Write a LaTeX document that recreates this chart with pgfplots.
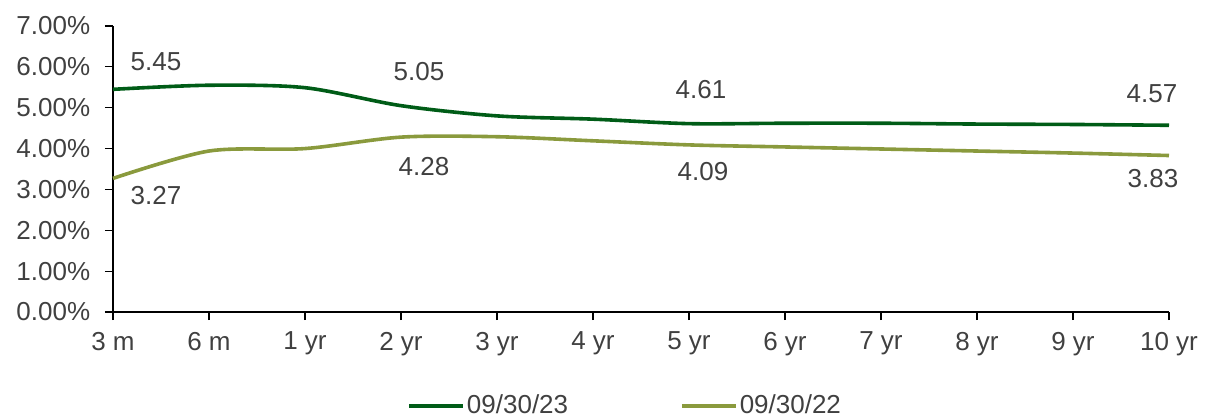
\documentclass[border=0pt]{standalone}
\usepackage{pgfplots}
\pgfplotsset{compat=1.18}
\usepackage{fontspec}
\setmainfont{Liberation Sans}
\definecolor{dkgreen}{HTML}{005C17}
\definecolor{olive}{HTML}{8A9A3D}
\definecolor{txt}{HTML}{404040}
\newcommand{\fs}{\fontsize{26bp}{30bp}\selectfont}
\begin{document}
\fs
\begin{tikzpicture}
\path[use as bounding box] (-113bp,-102bp) rectangle (1095bp,312bp);
\begin{axis}[
  at={(0,0)}, anchor=south west,
  scale only axis, width=1056bp, height=286bp,
  xmin=0, xmax=11, ymin=0, ymax=7,
  axis x line*=bottom, axis y line*=left,
  axis line style={black, line width=1.2bp},
  xtick={0,...,11},
  xticklabels={3 m,6 m,1 yr,2 yr,3 yr,4 yr,5 yr,6 yr,7 yr,8 yr,9 yr,10 yr},
  ytick={0,...,7},
  yticklabels={0.00\%,1.00\%,2.00\%,3.00\%,4.00\%,5.00\%,6.00\%,7.00\%},
  tick align=outside, major tick length=8bp,
  tick style={black, line width=1.2bp},
  ticklabel style={font=\fs, text=txt},
  yticklabel style={xshift=-6bp},
  xticklabel style={yshift=-3bp},
  legend columns=2,
  legend style={at={(0.485,-0.329)}, anchor=center, draw=none, fill=none,
    font=\fs, text=txt, inner sep=0pt,
    /tikz/every even column/.append style={column sep=110bp}},
  legend image code/.code={\draw[#1] (0bp,0bp) -- (54bp,0bp);},
  clip=false,
]
\addplot[dkgreen, line width=3.6bp, smooth, tension=0.5] coordinates {
 (0,5.45) (1,5.55) (2,5.49) (3,5.05) (4,4.80) (5,4.72) (6,4.61) (7,4.62) (8,4.62) (9,4.60) (10,4.59) (11,4.57)};
\addlegendentry{09/30/23}
\addplot[olive, line width=3.6bp, smooth, tension=0.5] coordinates {
 (0,3.27) (1,3.94) (2,4.00) (3,4.28) (4,4.29) (5,4.19) (6,4.09) (7,4.04) (8,3.99) (9,3.94) (10,3.89) (11,3.83)};
\addlegendentry{09/30/22}
\node[text=txt] at (axis cs:0,5.45) [xshift=43bp, yshift=28bp] {5.45};
\node[text=txt] at (axis cs:3,5.05) [xshift=18bp, yshift=34bp] {5.05};
\node[text=txt] at (axis cs:6,4.61) [xshift=12bp, yshift=34bp] {4.61};
\node[text=txt] at (axis cs:11,4.57) [xshift=-17bp, yshift=32bp] {4.57};
\node[text=txt] at (axis cs:0,3.27) [xshift=43bp, yshift=-17bp] {3.27};
\node[text=txt] at (axis cs:3,4.28) [xshift=23bp, yshift=-29bp] {4.28};
\node[text=txt] at (axis cs:6,4.09) [xshift=14bp, yshift=-27bp] {4.09};
\node[text=txt] at (axis cs:11,3.83) [xshift=-16bp, yshift=-23bp] {3.83};
\end{axis}
\end{tikzpicture}
\end{document}
